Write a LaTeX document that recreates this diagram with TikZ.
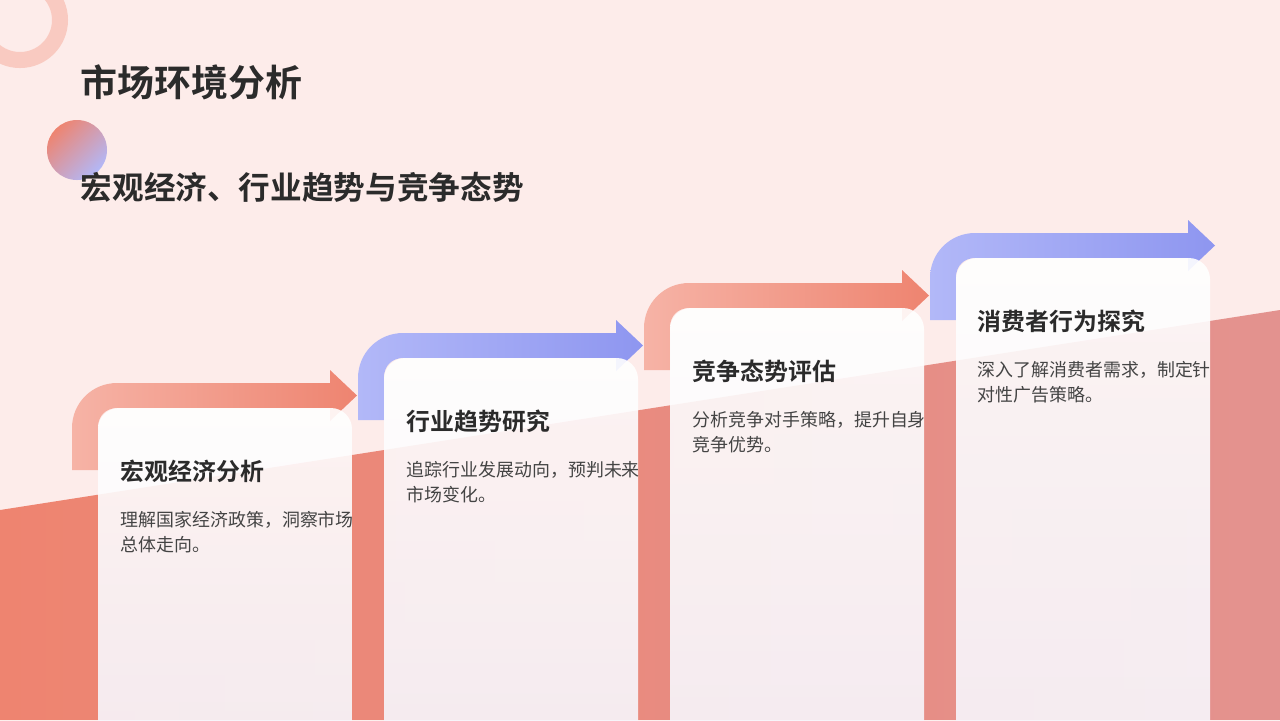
\documentclass[tikz,border=0pt]{standalone}
\usepackage{fontspec}
\setmainfont{Noto Sans CJK SC}[BoldFont={Noto Sans CJK SC Bold}]
\usetikzlibrary{positioning}
\definecolor{bgpink}{HTML}{FDECEA}
\definecolor{salmon}{HTML}{EE8470}
\definecolor{salmonlt}{HTML}{F6B3A6}
\definecolor{bluedk}{HTML}{8E96F0}
\definecolor{bluelt}{HTML}{B2B8F8}
\definecolor{lav}{HTML}{C3BDEB}
\definecolor{ink}{HTML}{2B2B2B}
\definecolor{txt}{HTML}{444444}
\tikzset{
  cardbox/.style={top color=white, bottom color=white!85!lav, rounded corners=6pt, fill opacity=0.9},
  heading/.style={anchor=north west, font=\bfseries\fontsize{6.8}{8}\selectfont, text=ink, inner sep=0pt},
  bodytxt/.style={anchor=north west, font=\fontsize{5.1}{7}\selectfont, text=txt, inner sep=0pt, align=left}
}
% bent step arrow: #1 left x, #2 band top y
\newcommand{\steparrow}[4]{%
  \shade[left color=#3, right color=#4]
    (#1,{#2+87}) -- (#1,{#2+45}) .. controls (#1,{#2+20}) and ({#1+20},#2) .. ({#1+45},#2)
    -- ({#1+258},#2) -- ({#1+258},{#2-13}) -- ({#1+285},{#2+12.5}) -- ({#1+258},{#2+38})
    -- ({#1+258},{#2+25}) -- ({#1+45},{#2+25}) .. controls ({#1+34},{#2+25}) and ({#1+26},{#2+33}) .. ({#1+26},{#2+44})
    -- ({#1+26},{#2+87}) -- cycle;}
\begin{document}
\begin{tikzpicture}[x=0.01cm, y=-0.01cm]
\useasboundingbox (0,0) rectangle (1280,720);
\fill[bgpink] (0,0) rectangle (1280,720);
% background band
\shade[left color=salmon, right color=salmon!75!lav] (0,510) -- (1280,310) -- (1280,720) -- (0,720) -- cycle;
% decorations
\draw[salmonlt!60!bgpink, line width=0.16cm] (20,20) circle (40);
\shade[left color=salmon, right color=bluelt, shading angle=45] (77,150) circle (30);
% titles
\node[anchor=west, font=\bfseries\fontsize{10.5}{12}\selectfont, text=ink, inner sep=0pt] (title) at (80,82) {市场环境分析};
\node[anchor=west, font=\bfseries\fontsize{9}{11}\selectfont, text=ink, inner sep=0pt] (subtitle) at (80,187) {宏观经济、行业趋势与竞争态势};
% step arrows
\steparrow{72}{383}{salmonlt}{salmon}
\steparrow{358}{333}{bluelt}{bluedk}
\steparrow{644}{283}{salmonlt}{salmon}
\steparrow{930}{233}{bluelt}{bluedk}
% cards
\foreach \i in {0,...,3}{
  \shade[cardbox] ({98+286*\i},{408-50*\i}) rectangle ({352+286*\i},760);
}
\node[heading] (h1) at (120,459) {宏观经济分析};
\node[bodytxt] (b1) at (120,511) {理解国家经济政策，洞察市场\\总体走向。};
\node[heading] (h2) at (406,409) {行业趋势研究};
\node[bodytxt] (b2) at (406,461) {追踪行业发展动向，预判未来\\市场变化。};
\node[heading] (h3) at (692,359) {竞争态势评估};
\node[bodytxt] (b3) at (692,411) {分析竞争对手策略，提升自身\\竞争优势。};
\node[heading] (h4) at (977,309) {消费者行为探究};
\node[bodytxt] (b4) at (977,361) {深入了解消费者需求，制定针\\对性广告策略。};
\end{tikzpicture}
\end{document}
